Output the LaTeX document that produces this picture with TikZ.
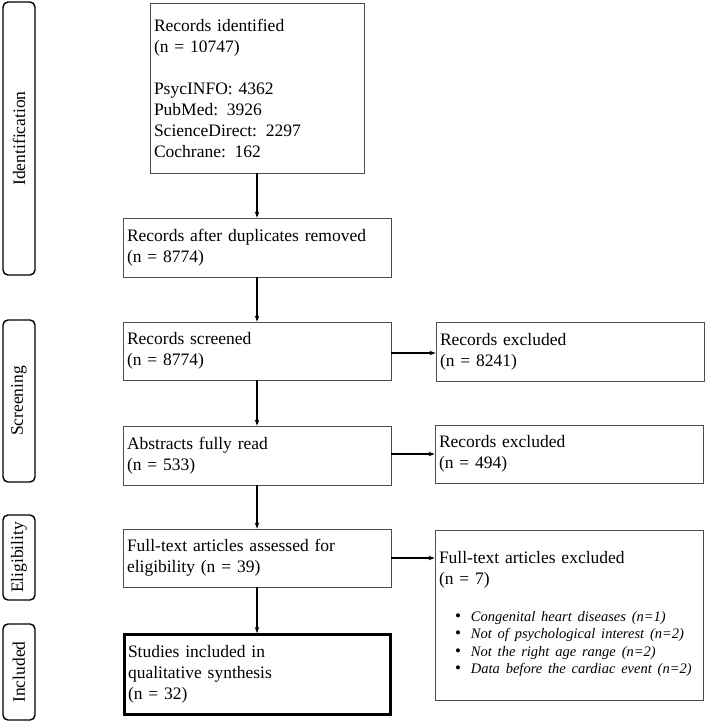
\documentclass[tikz,border=0pt]{standalone}
\usepackage{fontspec}
\setmainfont{Liberation Serif}
\usetikzlibrary{arrows.meta}
\begin{document}
\begin{tikzpicture}[x=1pt,y=-1pt,
  every node/.style={font=\fontsize{17.5}{21}\selectfont},
  box/.style={draw=black!70, line width=0.9pt, rectangle, align=left, inner sep=4pt},
  finalbox/.style={draw=black, line width=3pt, rectangle, align=left, inner sep=4pt},
  phase/.style={draw=black, line width=1.4pt, rounded corners=5pt, rectangle, inner sep=0pt, rotate=90},
  flow/.style={line width=1.2pt, -{Stealth[length=6pt,width=4.5pt]}}]
\useasboundingbox (0,0) rectangle (706,722);

% phase labels
\node[phase, minimum width=273pt, minimum height=32pt] (pid) at (19,138.5) {Identification};
\node[phase, minimum width=162pt, minimum height=32pt] (pscr) at (19,401) {Screening};
\node[phase, minimum width=85pt, minimum height=32pt] (pel) at (19,557.5) {Eligibility};
\node[phase, minimum width=96pt, minimum height=32pt] (pin) at (19,672) {Included};

% main column
\node[box, text width=206pt, minimum height=170pt] (id) at (257,88)
  {Records identified\\(n = 10747)\\[21pt]PsycINFO: 4362\\PubMed: 3926\\ScienceDirect: 2297\\Cochrane: 162};
\node[box, text width=260pt, minimum height=59pt] (dup) at (257,247.5)
  {Records after duplicates removed\\(n = 8774)};
\node[box, text width=260pt, minimum height=58pt] (scr) at (257,351)
  {Records screened\\(n = 8774)};
\node[box, text width=260pt, minimum height=59pt] (abs) at (257,455.5)
  {Abstracts fully read\\(n = 533)};
\node[box, text width=260pt, minimum height=58pt] (elig) at (257,558)
  {Full-text articles assessed for\\eligibility (n = 39)};
\node[finalbox, text width=258pt, minimum height=80pt] (inc) at (257,674.5)
  {Studies included in\\qualitative synthesis\\(n = 32)};

% exclusion column
\node[box, text width=260pt, minimum height=59pt] (ex1) at (570,351.5)
  {Records excluded\\(n = 8241)};
\node[box, text width=260pt, minimum height=58pt] (ex2) at (569,454)
  {Records excluded\\(n = 494)};
\node[box, text width=260pt, minimum height=170pt] (ex3) at (569,615)
  {Full-text articles excluded\\(n = 7)\\[20pt]
   {\fontsize{14.5}{17.5}\selectfont\itshape
   \begin{tabular}{@{\hspace{16pt}}l@{\hspace{10pt}}l@{}}
   {\upshape\fontsize{17}{17.5}\selectfont\textbullet} & Congenital heart diseases (n=1)\\
   {\upshape\fontsize{17}{17.5}\selectfont\textbullet} & Not of psychological interest (n=2)\\
   {\upshape\fontsize{17}{17.5}\selectfont\textbullet} & Not the right age range (n=2)\\
   {\upshape\fontsize{17}{17.5}\selectfont\textbullet} & Data before the cardiac event (n=2)
   \end{tabular}}};

% connectors
\draw[flow] (id.south) -- (dup.north);
\draw[flow] (dup.south) -- (scr.north);
\draw[flow] (scr.south) -- (abs.north);
\draw[flow] (abs.south) -- (elig.north);
\draw[flow] (elig.south) -- (inc.north);
\draw[flow] ([yshift=-2pt]scr.east) -- ([yshift=-2pt]scr.east -| ex1.west);
\draw[flow] ([yshift=1.5pt]abs.east) -- ([yshift=1.5pt]abs.east -| ex2.west);
\draw[flow] (elig.east) -- (elig.east -| ex3.west);
\end{tikzpicture}
\end{document}
